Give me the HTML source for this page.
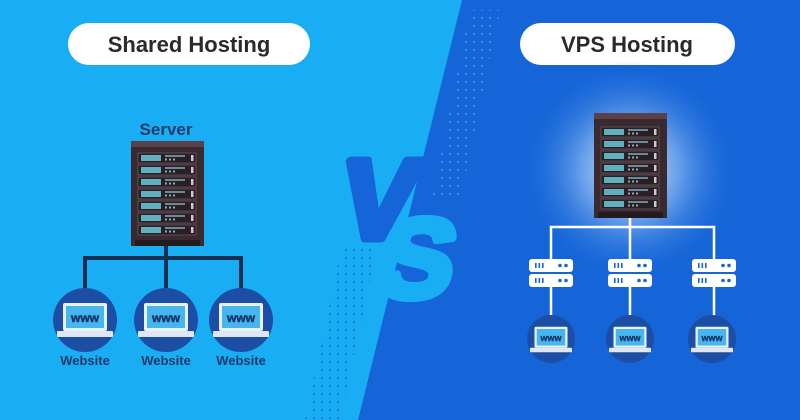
<!DOCTYPE html>
<html><head><meta charset="utf-8"><style>
html,body{margin:0;padding:0;width:800px;height:420px;overflow:hidden;background:#19aef3}
svg{display:block}
text{font-family:"Liberation Sans",sans-serif;font-weight:bold}
</style></head><body>
<svg width="800" height="420" viewBox="0 0 800 420" xmlns="http://www.w3.org/2000/svg">
<defs>
<radialGradient id="glow" cx="0.5" cy="0.5" r="0.5">
<stop offset="0" stop-color="#ffffff" stop-opacity="0.95"/>
<stop offset="0.45" stop-color="#9cc4f5" stop-opacity="0.6"/>
<stop offset="1" stop-color="#1565d8" stop-opacity="0"/>
</radialGradient>
<pattern id="dots" width="8" height="8" patternUnits="userSpaceOnUse">
<circle cx="2" cy="2" r="1" fill="#1e6fe0"/>
</pattern>
<pattern id="dots2" width="8" height="8" patternUnits="userSpaceOnUse">
<circle cx="2" cy="2" r="1" fill="#3aa0f0"/>
</pattern>
<g id="rack">
<rect x="0" y="0" width="73" height="105" fill="#3a2a30"/>
<rect x="0" y="0" width="73" height="6" fill="#5a4048"/>
<rect x="4" y="99" width="65" height="6" fill="#241a1e"/>
</g>
<g id="unit">
<rect x="0" y="0" width="58" height="10" fill="#2a1f24" stroke="#7a6a70" stroke-width="0.6"/>
<rect x="3" y="2" width="20" height="6" fill="#5fb0c0"/>
<rect x="27" y="2" width="20" height="2" fill="#6a8a98"/>
<rect x="27" y="5.5" width="2" height="2" fill="#8ab"/><rect x="31" y="5.5" width="2" height="2" fill="#8ab"/><rect x="35" y="5.5" width="2" height="2" fill="#8ab"/>
<rect x="53" y="2" width="2.5" height="6" fill="#ccc"/>
</g>
<g id="laptop">
<rect x="-22" y="-15" width="44" height="28" rx="2" fill="#e8f2fb"/>
<rect x="-19" y="-12" width="38" height="22" fill="#47b6ee"/>
<rect x="-28" y="13" width="56" height="6" rx="1" fill="#dfe8f2"/>
<text x="0" y="4" font-size="12" fill="#173a70" text-anchor="middle" stroke="#173a70" stroke-width="0.5">www</text>
</g>
<g id="mini">
<rect x="-22" y="0" width="44" height="13" rx="3" fill="#fff"/>
<rect x="-22" y="15" width="44" height="13" rx="3" fill="#fff"/>
<g fill="#1565d8">
<rect x="-16" y="4" width="1.6" height="5"/><rect x="-12.5" y="4" width="1.6" height="5"/><rect x="-9" y="4" width="1.6" height="5"/>
<circle cx="9" cy="6.5" r="1.8"/><circle cx="15" cy="6.5" r="1.8"/>
<rect x="-16" y="19" width="1.6" height="5"/><rect x="-12.5" y="19" width="1.6" height="5"/><rect x="-9" y="19" width="1.6" height="5"/>
<circle cx="9" cy="21.5" r="1.8"/><circle cx="15" cy="21.5" r="1.8"/>
</g>
</g>
</defs>
<rect width="800" height="420" fill="#19aef3"/>
<polygon points="462,0 800,0 800,420 358,420" fill="#1565d8"/>
<polygon points="470,10 500,10 460,200 432,200" fill="url(#dots2)"/>
<polygon points="342,245 378,245 340,420 305,420" fill="url(#dots)"/>
<!-- VS -->
<text x="0" y="0" font-size="112" fill="#1565d8" stroke="#1565d8" stroke-width="9" stroke-linejoin="round" transform="translate(336,238) skewX(-10)">V</text>
<text x="0" y="0" font-size="112" fill="#19aef3" stroke="#19aef3" stroke-width="8" stroke-linejoin="round" transform="translate(374,297) skewX(-10)">S</text>
<!-- headers -->
<rect x="68" y="23" width="242" height="42" rx="21" fill="#fff"/>
<text x="189" y="52" font-size="22" fill="#2a2a2e" text-anchor="middle">Shared Hosting</text>
<rect x="520" y="23" width="215" height="42" rx="21" fill="#fff"/>
<text x="627" y="52" font-size="22" fill="#2a2a2e" text-anchor="middle">VPS Hosting</text>
<!-- left -->
<text x="166" y="135" font-size="17" fill="#1b3a6b" text-anchor="middle">Server</text>
<use href="#rack" x="131" y="141"/>
<use href="#unit" x="138" y="153"/><use href="#unit" x="138" y="165"/><use href="#unit" x="138" y="177"/><use href="#unit" x="138" y="189"/><use href="#unit" x="138" y="201"/><use href="#unit" x="138" y="213"/><use href="#unit" x="138" y="225"/>
<g stroke="#173052" stroke-width="4" fill="none">
<path d="M166 246 V258 M85 292 V258 H241 V292 M166 258 V292"/>
</g>
<circle cx="85" cy="320" r="32" fill="#1d4ea6"/>
<circle cx="166" cy="320" r="32" fill="#1d4ea6"/>
<circle cx="241" cy="320" r="32" fill="#1d4ea6"/>
<use href="#laptop" x="85" y="318"/><use href="#laptop" x="166" y="318"/><use href="#laptop" x="241" y="318"/>
<text x="85" y="365" font-size="13" fill="#1b3a6b" text-anchor="middle">Website</text>
<text x="166" y="365" font-size="13" fill="#1b3a6b" text-anchor="middle">Website</text>
<text x="241" y="365" font-size="13" fill="#1b3a6b" text-anchor="middle">Website</text>
<!-- right -->
<circle cx="630" cy="170" r="110" fill="url(#glow)"/>
<use href="#rack" x="594" y="113"/>
<use href="#unit" x="601" y="127"/><use href="#unit" x="601" y="139"/><use href="#unit" x="601" y="151"/><use href="#unit" x="601" y="163"/><use href="#unit" x="601" y="175"/><use href="#unit" x="601" y="187"/><use href="#unit" x="601" y="199"/>
<g stroke="#ffffff" stroke-width="2.5" fill="none">
<path d="M630 218 V227 M551 259 V227 H714 V259 M630 227 V259"/>
<path d="M551 287 V316 M630 287 V316 M714 287 V316"/>
</g>
<use href="#mini" x="551" y="259"/><use href="#mini" x="630" y="259"/><use href="#mini" x="714" y="259"/>
<circle cx="551" cy="339" r="24" fill="#1d4ea6"/>
<circle cx="630" cy="339" r="24" fill="#1d4ea6"/>
<circle cx="712" cy="339" r="24" fill="#1d4ea6"/>
<g transform="translate(551,338) scale(0.75)"><use href="#laptop"/></g>
<g transform="translate(630,338) scale(0.75)"><use href="#laptop"/></g>
<g transform="translate(712,338) scale(0.75)"><use href="#laptop"/></g>
</svg>
</body></html>
